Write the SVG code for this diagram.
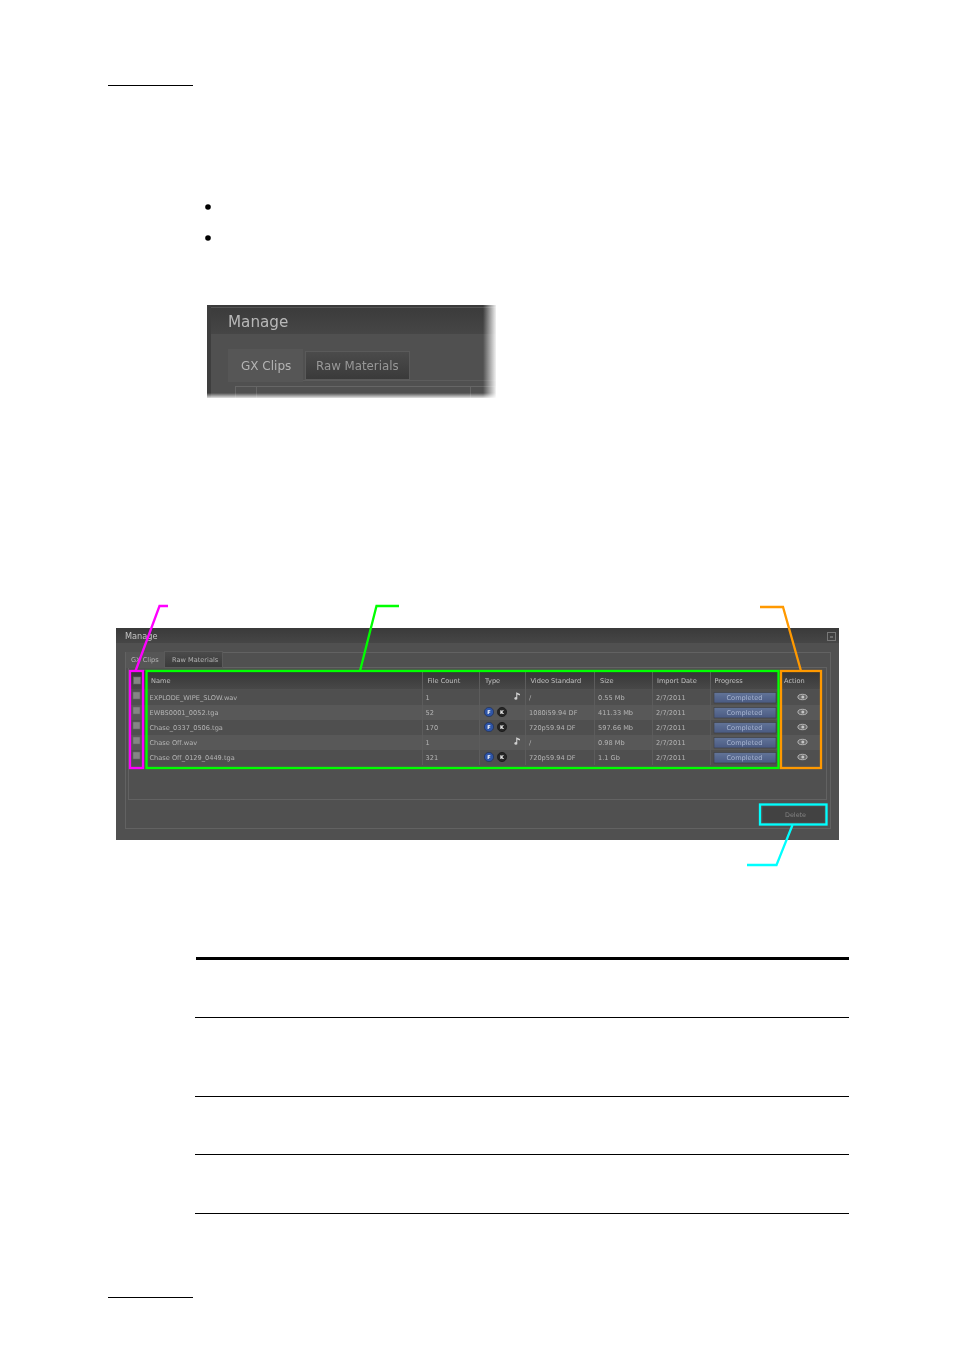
<svg xmlns="http://www.w3.org/2000/svg" width="954" height="1349" viewBox="0 0 954 1349">
<style>
text{font-family:"DejaVu Sans","Liberation Sans",sans-serif}
.t{font-size:6.6px;fill:#b4b4b4}
.h{font-size:6.6px;fill:#c0c0c0}
.b{font-size:6.6px;fill:#a9b6d2;text-anchor:middle}
.sep{stroke:#5c5c5c;stroke-width:1}
.rule{stroke:#000;stroke-width:1}
.frame{fill:none;stroke:#626262;stroke-width:1}
.call{fill:none;stroke-width:2.3}
.ic{font-size:5px;font-weight:700;fill:#fff;text-anchor:middle}
</style>
<defs>
<clipPath id="cp"><rect x="207" y="305" width="289" height="93"/></clipPath>
<linearGradient id="hd" x1="0" y1="0" x2="0" y2="1"><stop offset="0" stop-color="#363636"/><stop offset="1" stop-color="#484848"/></linearGradient>
<linearGradient id="ti" x1="0" y1="0" x2="0" y2="1"><stop offset="0" stop-color="#3a3a3a"/><stop offset="1" stop-color="#464646"/></linearGradient>
<linearGradient id="tb" x1="0" y1="0" x2="0" y2="1"><stop offset="0" stop-color="#4b4b4b"/><stop offset="1" stop-color="#3a3a3a"/></linearGradient>
<linearGradient id="bt" x1="0" y1="0" x2="0" y2="1"><stop offset="0" stop-color="#627499"/><stop offset="1" stop-color="#4a5a82"/></linearGradient>
<linearGradient id="fr" x1="0" y1="0" x2="1" y2="0"><stop offset="0" stop-color="#fff" stop-opacity="0"/><stop offset="1" stop-color="#fff"/></linearGradient>
<linearGradient id="fb" x1="0" y1="0" x2="0" y2="1"><stop offset="0" stop-color="#fff" stop-opacity="0"/><stop offset="1" stop-color="#fff"/></linearGradient>
<filter id="s" x="-5%" y="-20%" width="110%" height="140%"><feGaussianBlur stdDeviation="0.4"/></filter>
<g id="chk"><rect x="-3.5" y="-3.5" width="7" height="7" fill="#858585" stroke="#666" stroke-width="0.6"/></g>
<g id="eye"><ellipse cx="0" cy="0" rx="4.6" ry="2.7" fill="#6c6c6c" stroke="#bdbdbd" stroke-width="0.9"/><circle cx="0.3" cy="0" r="1.5" fill="#c4c4c4"/></g>
<g id="done"><rect x="714" y="-4.500" width="62" height="10.500" fill="url(#bt)" stroke="#3f3f3f" stroke-width="0.6"/><text class="b" x="744.500" y="2.600">Completed</text></g>
<g id="fk"><circle cx="489" cy="0" r="4.600" fill="#2f55a6" stroke="#1d2a50" stroke-width="0.6"/><text class="ic" x="489" y="1.800">F</text><circle cx="502" cy="0" r="4.600" fill="#262626" stroke="#111" stroke-width="0.6"/><text class="ic" x="502" y="1.800">K</text></g>
<path id="note" d="M516.200-0.500V-5.200L520-3.400V-2L517.300-3V1.800A1.700 1.400 0 1 1 516.200-0.500Z" fill="#d0d0d0"/>
</defs>

<g id="page-rules">
<line class="rule" x1="108" y1="85.500" x2="193" y2="85.500"/>
<line class="rule" x1="108" y1="1297.500" x2="193" y2="1297.500"/>
</g>
<g id="bullets">
<circle cx="208" cy="207" r="2.800" fill="#000"/>
<circle cx="208" cy="238" r="2.800" fill="#000"/>
</g>

<g id="small-screenshot">
<g clip-path="url(#cp)">
<rect x="207" y="305" width="289" height="93" fill="#505050"/>
<rect x="207" y="305" width="289" height="29" fill="url(#ti)"/>
<rect x="207" y="305" width="4" height="93" fill="#3e3e3e"/>
<line x1="211" y1="307.500" x2="496" y2="307.500" stroke="#555"/>
<rect x="228" y="349" width="75" height="33" fill="#565656"/>
<rect x="305.500" y="351.500" width="104" height="28" fill="url(#tb)" stroke="#5a5a5a"/>
<line x1="303" y1="380.500" x2="496" y2="380.500" stroke="#5c5c5c"/>
<rect x="235.500" y="386.500" width="260" height="20" fill="none" stroke="#666"/>
<line x1="256.500" y1="386" x2="256.500" y2="398" stroke="#666"/>
<line x1="470.500" y1="386" x2="470.500" y2="398" stroke="#666"/>
<g filter="url(#s)">
<text x="228" y="326.500" font-size="15.200" fill="#b8b8b8">Manage</text>
<text x="241" y="370" font-size="12" fill="#b4b4b4">GX Clips</text>
<text x="316" y="370" font-size="11.800" fill="#989898">Raw Materials</text>
</g>
</g>
<rect x="483" y="304" width="14" height="96" fill="url(#fr)"/>
<rect x="206" y="393" width="292" height="6" fill="url(#fb)"/>
</g>

<g id="manage-window">
<rect x="116" y="628" width="723" height="212" fill="#505050"/>
<rect x="116" y="628" width="723" height="15" fill="url(#ti)"/>
<rect x="827.500" y="632.500" width="8" height="8" fill="none" stroke="#777"/>
<line x1="830" y1="637" x2="833" y2="637" stroke="#999"/>
<rect class="frame" x="125.500" y="652.500" width="705" height="176"/>
<rect class="frame" x="128.500" y="667.500" width="698" height="132"/>
<rect x="126" y="652" width="38" height="16" fill="#565656"/>
<rect x="164.500" y="651.500" width="58" height="16" fill="url(#tb)" stroke="#5a5a5a"/>
<rect x="129" y="671" width="693" height="18" fill="url(#hd)"/>
<rect x="129" y="690" width="693" height="15" fill="#4f4f4f"/>
<rect x="129" y="705" width="693" height="15" fill="#585858"/>
<rect x="129" y="720" width="693" height="15" fill="#4f4f4f"/>
<rect x="129" y="735" width="693" height="15" fill="#585858"/>
<rect x="129" y="750" width="693" height="15" fill="#4f4f4f"/>
<g>
<line class="sep" x1="422.500" y1="671" x2="422.500" y2="765"/>
<line class="sep" x1="479.500" y1="671" x2="479.500" y2="765"/>
<line class="sep" x1="525.500" y1="671" x2="525.500" y2="765"/>
<line class="sep" x1="594.500" y1="671" x2="594.500" y2="765"/>
<line class="sep" x1="652.500" y1="671" x2="652.500" y2="765"/>
<line class="sep" x1="710.500" y1="671" x2="710.500" y2="765"/>
<line class="sep" x1="780.500" y1="671" x2="780.500" y2="765"/>
</g>
<g filter="url(#s)">
<text x="125" y="639" font-size="8.200" fill="#c4c4c4">Manage</text>
<text x="131" y="662" class="t">GX Clips</text>
<text x="172" y="662" class="t">Raw Materials</text>
<text class="h" x="151" y="683">Name</text>
<text class="h" x="427.500" y="683">File Count</text>
<text class="h" x="485" y="683">Type</text>
<text class="h" x="530.500" y="683">Video Standard</text>
<text class="h" x="600" y="683">Size</text>
<text class="h" x="657" y="683">Import Date</text>
<text class="h" x="714.500" y="683">Progress</text>
<text class="h" x="784" y="683">Action</text>
<text class="t" x="149.500" y="699.500">EXPLODE_WIPE_SLOW.wav</text>
<text class="t" x="149.500" y="714.500">EWBS0001_0052.tga</text>
<text class="t" x="149.500" y="729.500">Chase_0337_0506.tga</text>
<text class="t" x="149.500" y="744.500">Chase Off.wav</text>
<text class="t" x="149.500" y="759.500">Chase Off_0129_0449.tga</text>
<text class="t" x="425.500" y="699.500">1</text>
<text class="t" x="425.500" y="714.500">52</text>
<text class="t" x="425.500" y="729.500">170</text>
<text class="t" x="425.500" y="744.500">1</text>
<text class="t" x="425.500" y="759.500">321</text>
<text class="t" x="529" y="699.500">/</text>
<text class="t" x="529" y="714.500">1080i59.94 DF</text>
<text class="t" x="529" y="729.500">720p59.94 DF</text>
<text class="t" x="529" y="744.500">/</text>
<text class="t" x="529" y="759.500">720p59.94 DF</text>
<text class="t" x="598" y="699.500">0.55 Mb</text>
<text class="t" x="598" y="714.500">411.33 Mb</text>
<text class="t" x="598" y="729.500">597.66 Mb</text>
<text class="t" x="598" y="744.500">0.98 Mb</text>
<text class="t" x="598" y="759.500">1.1 Gb</text>
<text class="t" x="656" y="699.500">2/7/2011</text>
<text class="t" x="656" y="714.500">2/7/2011</text>
<text class="t" x="656" y="729.500">2/7/2011</text>
<text class="t" x="656" y="744.500">2/7/2011</text>
<text class="t" x="656" y="759.500">2/7/2011</text>
<use href="#done" y="697"/><use href="#done" y="712"/><use href="#done" y="727"/><use href="#done" y="742"/><use href="#done" y="757"/>
<use href="#fk" y="712"/><use href="#fk" y="727"/><use href="#fk" y="757"/>
<use href="#note" y="697.500"/><use href="#note" y="742.500"/>
<use href="#eye" x="802.500" y="697"/><use href="#eye" x="802.500" y="712"/><use href="#eye" x="802.500" y="727"/><use href="#eye" x="802.500" y="742"/><use href="#eye" x="802.500" y="757"/>
<use href="#chk" x="137" y="680.500"/><use href="#chk" x="136.500" y="695.500"/><use href="#chk" x="136.500" y="710.500"/><use href="#chk" x="136.500" y="725.500"/><use href="#chk" x="136.500" y="740.500"/><use href="#chk" x="136.500" y="755.500"/>
<rect x="762" y="806" width="63" height="17" fill="#434343" stroke="#5a5a5a" stroke-width="0.6"/>
<text x="795.500" y="817" font-size="6.400" fill="#808080" text-anchor="middle">Delete</text>
</g>
</g>

<g id="connectors">
<rect class="call" x="130" y="671" width="13" height="97" stroke="#ff00ff"/>
<path class="call" d="M135.500 671L159.500 606H168" stroke="#ff00ff"/>
<rect class="call" x="146.500" y="671" width="632" height="97" stroke="#00ff00"/>
<path class="call" d="M360 671L376.500 606H399" stroke="#00ff00"/>
<rect class="call" x="781" y="671" width="40" height="97" stroke="#ff9900"/>
<path class="call" d="M801 671L783 607H760" stroke="#ff9900"/>
<rect class="call" x="760" y="804.500" width="66.500" height="20" stroke="#00ffff"/>
<path class="call" d="M792.500 825L776.500 865H747" stroke="#00ffff"/>
</g>

<g id="table-rules">
<line x1="196" y1="958.500" x2="849" y2="958.500" stroke="#000" stroke-width="3"/>
<line class="rule" x1="195" y1="1017.500" x2="849" y2="1017.500"/>
<line class="rule" x1="195" y1="1096.500" x2="849" y2="1096.500"/>
<line class="rule" x1="195" y1="1154.500" x2="849" y2="1154.500"/>
<line class="rule" x1="195" y1="1213.500" x2="849" y2="1213.500"/>
</g>
</svg>
